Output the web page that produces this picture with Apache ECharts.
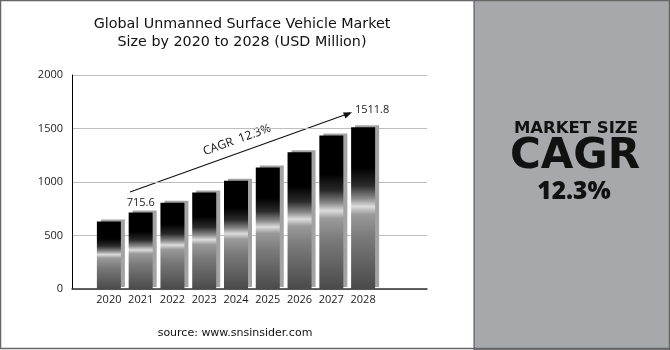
<!DOCTYPE html>
<html><head><meta charset="utf-8">
<script src="https://cdn.jsdelivr.net/npm/echarts@6/dist/echarts.min.js"></script>
<style>html,body{margin:0;padding:0;background:#fff}#c{width:670px;height:350px}</style>
</head><body><div id="c"></div>
<script>
const years = ['2020','2021','2022','2023','2024','2025','2026','2027','2028'];
const marketSize = [630, 715.6, 805, 903, 1012, 1136, 1278, 1434, 1511.8];
const labeledYears = ['2021','2028'];
const yTicks = [0, 500, 1000, 1500, 2000];
const titleText = 'Global Unmanned Surface Vehicle Market\nSize by 2020 to 2028 (USD Million)';
const cagrText = 'CAGR  12.3%';
const sourceText = 'source: www.snsinsider.com';

const chart = echarts.init(document.getElementById('c'), null, {renderer:'canvas'});
const barGrad = new echarts.graphic.LinearGradient(0,0,0,1,[
  {offset:0, color:'#000'},
  {offset:0.25, color:'#000'},
  {offset:0.36, color:'#2a2a2a'},
  {offset:0.44, color:'#8a8a8a'},
  {offset:0.49, color:'#dcdcdc'},
  {offset:0.54, color:'#9a9a9a'},
  {offset:0.68, color:'#7a7a7a'},
  {offset:1, color:'#4a4a4a'}
]);
const data = marketSize.map((v,i)=>{
  const item = {value:v};
  if (labeledYears.includes(years[i])) {
    item.label = {show:true, position:'top', distance: i===8 ? 12 : 4, offset: i===8 ? [9,0] : [0,0]};
  }
  return item;
});
chart.setOption({
  animation:false,
  title:{text:titleText, left:237, top:10, textAlign:'center',
    textStyle:{fontFamily:'DejaVu Sans', fontSize:14.3, fontWeight:'normal', color:'#111', lineHeight:18}},
  grid:[
    {left:72, right:243, top:75, bottom:61},
    {left:93, width:286, top:75, bottom:61}
  ],
  xAxis:[
    {gridIndex:0, type:'category', data:years, axisLine:{lineStyle:{color:'#333', width:1.5}},
     axisTick:{show:false}, axisLabel:{show:false}},
    {gridIndex:1, type:'category', data:years, axisLine:{show:false}, axisTick:{show:false},
     axisLabel:{interval:0, fontFamily:'Open Sans', fontSize:11, color:'#222', margin:5}}
  ],
  yAxis:[
    {gridIndex:0, type:'value', min:yTicks[0], max:yTicks[yTicks.length-1], interval:500,
     axisLine:{show:true, lineStyle:{color:'#000', width:1}}, axisTick:{show:false},
     axisLabel:{fontFamily:'Open Sans', fontSize:11, color:'#222', margin:9, formatter:v=>String(v)},
     splitLine:{lineStyle:{color:'#bdbdbd', width:1}}},
    {gridIndex:1, type:'value', min:yTicks[0], max:yTicks[yTicks.length-1], interval:500, show:false}
  ],
  series:[{
    type:'bar', xAxisIndex:1, yAxisIndex:1, barWidth:24, data:data,
    itemStyle:{color:barGrad, shadowColor:'#a3a3a3', shadowOffsetX:4, shadowOffsetY:-2, shadowBlur:0},
    label:{show:false, fontFamily:'Open Sans', fontSize:11, color:'#222'}
  }],
  graphic:[
    {type:'rect', shape:{x:474, y:0, width:196, height:350}, style:{fill:'#a7a8ab', stroke:'#444', lineWidth:1}, z:1},
    {type:'line', shape:{x1:130, y1:192, x2:350, y2:113}, style:{stroke:'#111', lineWidth:1.2}},
    {type:'polygon', shape:{points:[[352,112.3],[343,112.5],[345.5,118.5]]}, style:{fill:'#111'}},
    {type:'text', x:237, y:140, rotation:19.7*Math.PI/180, style:{text:cagrText, fontFamily:'Open Sans', fontSize:12, fill:'#111', align:'center', verticalAlign:'middle'}},
    {type:'text', x:235, y:333, style:{text:sourceText, fontFamily:'DejaVu Sans', fontSize:11, fill:'#111', align:'center', verticalAlign:'middle'}},
    {type:'text', x:576, y:129, style:{text:'MARKET SIZE', fontFamily:'DejaVu Sans', fontWeight:'bold', fontSize:16.5, fill:'#111', align:'center', verticalAlign:'middle'}, z:5},
    {type:'text', x:575, y:157, style:{text:'CAGR', fontFamily:'DejaVu Sans', fontWeight:'bold', fontSize:42, fill:'#111', align:'center', verticalAlign:'middle'}, z:5},
    {type:'text', x:574, y:192, style:{text:'12.3%', fontFamily:'Open Sans', fontWeight:800, fontSize:24.5, fill:'#111', align:'center', verticalAlign:'middle'}, z:5},
    {type:'group', z:5, children:[
      {type:'circle', shape:{cx:535, cy:302, r:1.8}, style:{fill:'#111'}},
      {type:'polygon', shape:{points:[[527,304],[530,306],[533,304],[535,306],[537,304],[540,306],[543,304],[542,310],[528,310]]}, style:{fill:'#111'}},
      {type:'rect', shape:{x:529, y:311, width:12, height:3}, style:{fill:'#111'}},
      {type:'rect', shape:{x:530, y:315, width:4, height:13}, style:{fill:'#111'}},
      {type:'rect', shape:{x:535, y:315, width:2, height:13}, style:{fill:'#555'}},
      {type:'rect', shape:{x:538, y:315, width:2, height:13}, style:{fill:'#666'}},
      {type:'rect', shape:{x:524, y:328, width:22, height:4}, style:{fill:'#111'}},
      {type:'text', x:548, y:320, style:{text:'SNS INSIDER', fontFamily:'Open Sans', fontSize:12.5, fill:'#444', verticalAlign:'middle'}},
      {type:'text', x:547, y:331, style:{text:'Strategy & Stats', fontFamily:'DejaVu Sans Mono', fontWeight:'bold', fontSize:5.5, fill:'#222', verticalAlign:'middle'}}
    ]},
    {type:'rect', shape:{x:0.5, y:0.5, width:669, height:348}, style:{fill:null, stroke:'#666', lineWidth:1.5}, z:10}
  ]
});
</script></body></html>
